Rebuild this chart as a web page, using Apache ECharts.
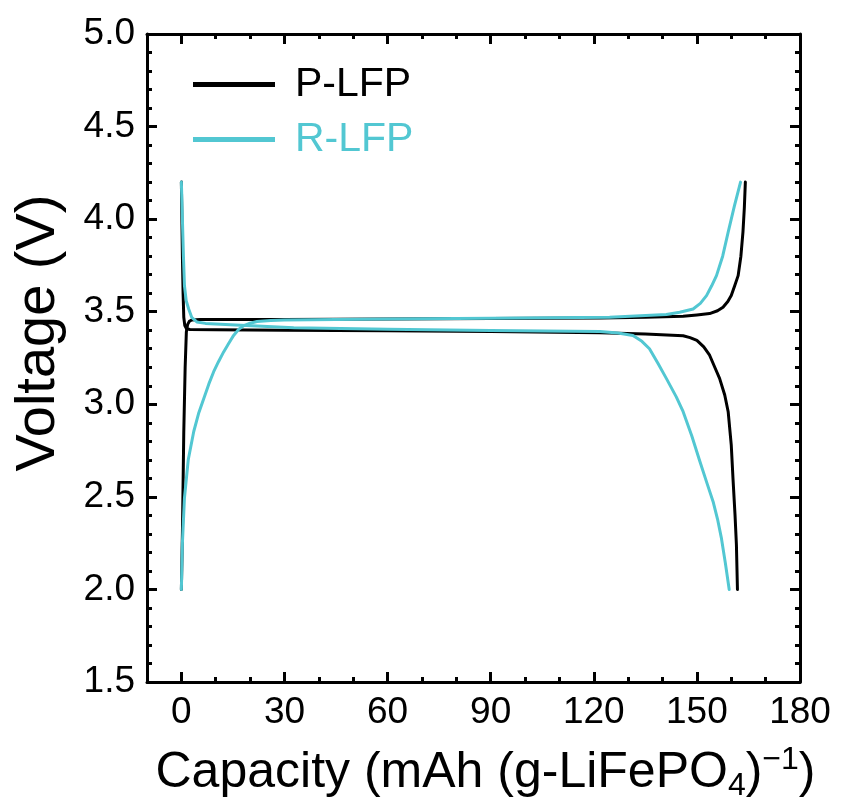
<!DOCTYPE html>
<html><head><meta charset="utf-8">
<script src="https://cdn.jsdelivr.net/npm/echarts@6/dist/echarts.min.js"></script>
<style>html,body{margin:0;padding:0;background:#fff}#c{width:841px;height:807px}</style>
</head><body><div id="c"></div>
<script>
// ---- data ----
const seriesNames = ['P-LFP', 'R-LFP'];
const xMajorTicks = [0, 30, 60, 90, 120, 150, 180];
const xMinorTicks = [-10, 10, 20, 40, 50, 70, 80, 100, 110, 130, 140, 160, 170];

const pChargeX = [0, 0.3, 0.7, 1.1, 1.45, 1.8, 2.3, 3, 5.5, 10, 30, 60, 90, 122, 135, 146, 150, 153.7, 156, 157.6, 159, 160, 161, 162, 162.8, 163.4, 163.8, 164.1];
const pChargeV = [2.0, 2.3, 2.85, 3.2, 3.39, 3.43, 3.448, 3.455, 3.458, 3.458, 3.458, 3.461, 3.463, 3.466, 3.47, 3.475, 3.482, 3.49, 3.505, 3.524, 3.555, 3.587, 3.64, 3.695, 3.8, 3.93, 4.06, 4.2];

const pDischargeX = [0, 0.15, 0.3, 0.5, 0.7, 1.0, 1.5, 2.5, 10, 30, 60, 90, 121.8, 135, 146, 148, 150, 152, 153.7, 155.2, 156.6, 158.1, 159.1, 160, 160.5, 161.1, 161.5, 161.8];
const pDischargeV = [4.2, 4.0, 3.8, 3.6, 3.47, 3.425, 3.408, 3.404, 3.402, 3.40, 3.397, 3.393, 3.387, 3.38, 3.37, 3.36, 3.345, 3.31, 3.265, 3.2, 3.14, 3.05, 2.96, 2.78, 2.6, 2.4, 2.24, 2.0];

const rChargeX = [0, 0.3, 0.9, 2, 3.6, 5, 6.5, 8, 9.4, 10.8, 12.3, 13.8, 15.2, 16.7, 18.2, 20, 22, 26, 30, 60, 90, 124.6, 141.1, 145, 148.9, 151, 152.8, 154.3, 155.7, 157.5, 159.1, 160.9, 162.7];
const rChargeV = [2.0, 2.25, 2.495, 2.7, 2.853, 2.95, 3.03, 3.11, 3.176, 3.23, 3.283, 3.33, 3.372, 3.405, 3.425, 3.438, 3.447, 3.453, 3.455, 3.46, 3.465, 3.47, 3.485, 3.497, 3.515, 3.545, 3.587, 3.64, 3.695, 3.8, 3.93, 4.07, 4.2];

const rDischargeX = [0, 0.3, 0.6, 0.9, 1.4, 2.1, 3, 4.5, 7, 14.3, 32.7, 60, 90, 121.8, 127, 131.4, 134, 136.2, 138.7, 141.1, 144, 146, 148.5, 150.9, 153, 154.7, 156, 157.1, 158.3, 159.4];
const rDischargeV = [4.2, 4.0, 3.8, 3.64, 3.56, 3.516, 3.47, 3.445, 3.437, 3.43, 3.413, 3.405, 3.398, 3.393, 3.385, 3.372, 3.34, 3.30, 3.22, 3.14, 3.04, 2.96, 2.83, 2.69, 2.57, 2.475, 2.38, 2.28, 2.14, 2.0];

// ---- chart ----
const BLACK = '#000000';
const CYAN = '#52c7d2';
const FONT = 'Liberation Sans, Arial, sans-serif';
const zip = (xs, ys) => xs.map((x, i) => [x, ys[i]]);

const chart = echarts.init(document.getElementById('c'), null, {renderer: 'canvas'});

const axLine = {show: true, onZero: false, lineStyle: {color: '#000', width: 3}};
const xBase = {type: 'value', min: -10, max: 180, splitLine: {show: false}, gridIndex: 0};

function lineSeries(name, color, xs, ys) {
  return {
    type: 'line', name, data: zip(xs, ys), showSymbol: false, symbol: 'none',
    smooth: false,
    lineStyle: {color, width: 3, join: 'round', cap: 'round'}, itemStyle: {color},
    xAxisIndex: 0, yAxisIndex: 0, z: color === CYAN ? 3 : 2, animation: false
  };
}

chart.setOption({
  animation: false,
  backgroundColor: '#fff',
  grid: {left: 147, right: 41, top: 34, bottom: 122, containLabel: false},
  legend: {
    left: 193, top: 64, padding: 0, orient: 'vertical', icon: 'rect', itemWidth: 82, itemHeight: 5, itemGap: 14,
    textStyle: {fontFamily: FONT, fontSize: 41, lineHeight: 40, padding: [0, 0, 0, 15]},
    data: [
      {name: seriesNames[0], textStyle: {color: BLACK}},
      {name: seriesNames[1], textStyle: {color: CYAN}}
    ]
  },
  xAxis: [
    Object.assign({}, xBase, {
      position: 'bottom',
      axisLine: axLine,
      axisTick: {show: true, inside: true, length: 10, lineStyle: {width: 3, color: '#000'}, customValues: xMajorTicks},
      axisLabel: {show: true, customValues: xMajorTicks, fontFamily: FONT, fontSize: 37, color: '#000', margin: 12},
      name: 'Capacity (mAh (g-LiFePO{sub|4}){sup|−1})',
      nameLocation: 'middle', nameGap: 62,
      nameTextStyle: {
        fontFamily: FONT, fontSize: 50, color: '#000', padding: [0, 0, 0, 24],
        rich: {
          sub: {fontFamily: FONT, fontSize: 32, color: '#000', padding: [26, 0, 0, 0]},
          sup: {fontFamily: FONT, fontSize: 32, color: '#000', padding: [0, 0, 26, 0]}
        }
      }
    }),
    Object.assign({}, xBase, {
      position: 'bottom',
      axisLine: {show: false, onZero: false},
      axisTick: {show: true, inside: true, length: 5, lineStyle: {width: 3, color: '#000'}, customValues: xMinorTicks},
      axisLabel: {show: false}
    }),
    Object.assign({}, xBase, {
      position: 'top',
      axisLine: axLine,
      axisTick: {show: true, inside: true, length: 10, lineStyle: {width: 3, color: '#000'}, customValues: xMajorTicks},
      axisLabel: {show: false}
    }),
    Object.assign({}, xBase, {
      position: 'top',
      axisLine: {show: false, onZero: false},
      axisTick: {show: true, inside: true, length: 5, lineStyle: {width: 3, color: '#000'}, customValues: xMinorTicks},
      axisLabel: {show: false}
    })
  ],
  yAxis: [
    {
      type: 'value', min: 1.5, max: 5.0, interval: 0.5, position: 'left',
      splitLine: {show: false},
      axisLine: axLine,
      axisTick: {show: true, inside: true, length: 10, lineStyle: {width: 3, color: '#000'}},
      minorTick: {show: true, splitNumber: 5, length: 5, lineStyle: {width: 3, color: '#000'}},
      axisLabel: {fontFamily: FONT, fontSize: 37, color: '#000', margin: 12, formatter: v => v.toFixed(1)},
      name: 'Voltage (V)', nameLocation: 'middle', nameGap: 80,
      nameTextStyle: {fontFamily: FONT, fontSize: 56, color: '#000', padding: [0, 0, 0, 50]}
    },
    {
      type: 'value', min: 1.5, max: 5.0, interval: 0.5, position: 'right',
      splitLine: {show: false},
      axisLine: axLine,
      axisTick: {show: true, inside: true, length: 10, lineStyle: {width: 3, color: '#000'}},
      minorTick: {show: true, splitNumber: 5, length: 5, lineStyle: {width: 3, color: '#000'}},
      axisLabel: {show: false}
    }
  ],
  series: [
    lineSeries(seriesNames[0], BLACK, pChargeX, pChargeV),
    lineSeries(seriesNames[0], BLACK, pDischargeX, pDischargeV),
    lineSeries(seriesNames[1], CYAN, rChargeX, rChargeV),
    lineSeries(seriesNames[1], CYAN, rDischargeX, rDischargeV)
  ]
});
</script>
</body></html>
